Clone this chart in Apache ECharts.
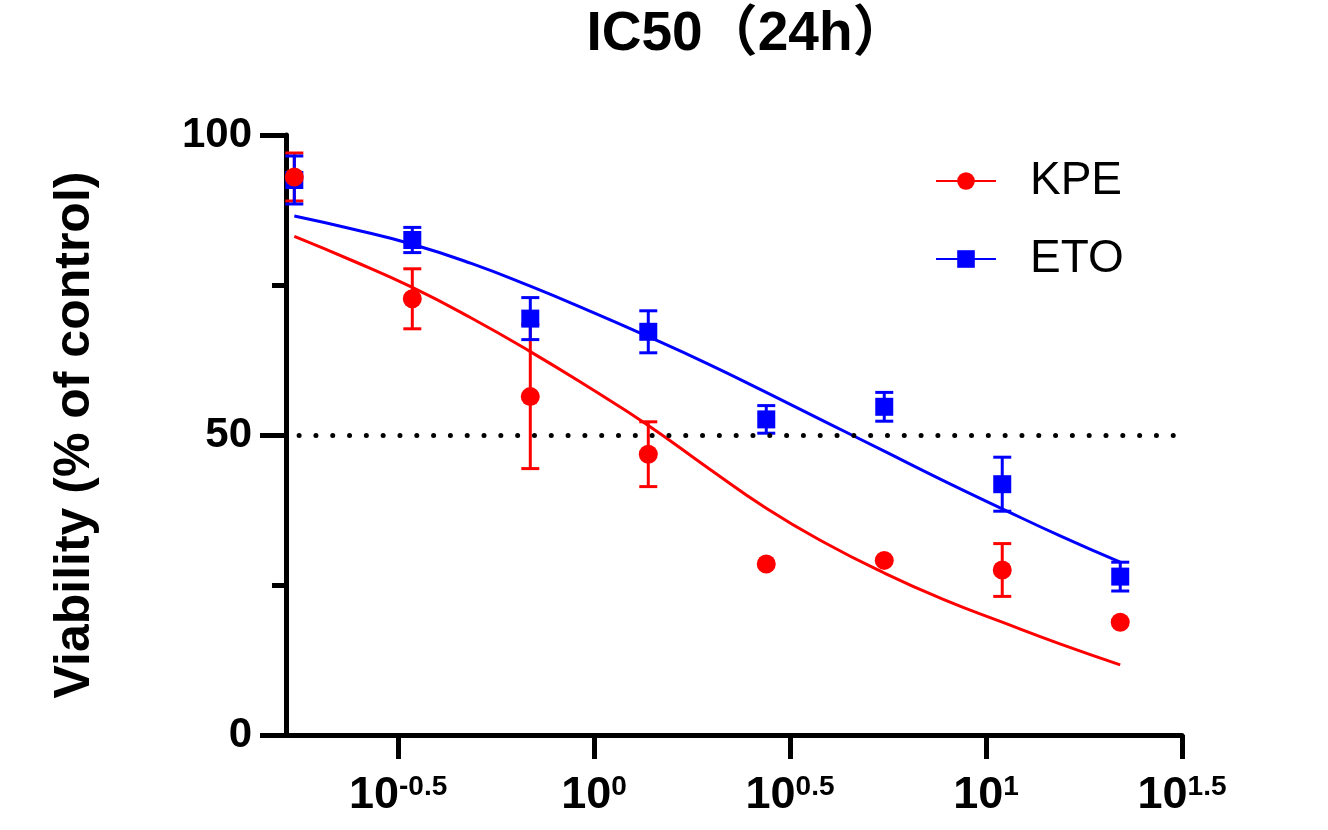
<!DOCTYPE html>
<html><head><meta charset="utf-8">
<script src="https://cdn.jsdelivr.net/npm/echarts@6/dist/echarts.min.js"></script>
<style>html,body{margin:0;padding:0;background:#fff}#c{width:1328px;height:830px}</style>
</head><body><div id="c"></div>
<script>
// ---- data ----
const doses = [0.171875, 0.34375, 0.6875, 1.375, 2.75, 5.5, 11, 22];
const kpeMean = [93.0, 72.7, 56.4, 46.8, 28.5, 29.1, 27.5, 18.8];
const kpeErr  = [4.0, 5.0, 12.0, 5.4, 0, 0, 4.4, 0];
const etoMean = [92.5, 82.5, 69.4, 67.2, 52.6, 54.7, 41.8, 26.4];
const etoErr  = [4.0, 2.1, 3.5, 3.5, 2.3, 2.4, 4.5, 2.4];
// fitted curves
const curveDoses = [0.171875, 0.243, 0.34375, 0.486, 0.6875, 0.972, 1.375, 1.945, 2.75, 3.89, 5.5, 7.78, 11, 15.56, 22];
const kpeFit = [83.1, 79.0, 74.6, 69.5, 63.9, 57.9, 51.6, 44.6, 37.8, 32.0, 27.0, 22.6, 18.8, 15.1, 11.7];
const etoFit = [86.5, 84.3, 81.8, 78.6, 74.8, 70.7, 66.4, 61.9, 57.1, 52.2, 47.3, 42.4, 37.7, 33.1, 28.8];
const xTickExp = [-0.5, 0, 0.5, 1, 1.5];
const xTickText = ['-0.5', '0', '0.5', '1', '1.5'];
const refLine = 50;

const FONT = "'Liberation Sans', Arial, 'Noto Sans CJK SC', sans-serif";
const RED = '#ff0000', BLUE = '#0000ff';

const lg = v => Math.log10(v);
const pts = (d, m) => d.map((x, i) => [lg(x), m[i]]);
const errData = (m, e) => doses.map((x, i) => [lg(x), m[i], e[i]]);

function errRender(color) {
  return function (params, api) {
    const x = api.value(0), m = api.value(1), e = api.value(2);
    if (!e) return null;
    const top = api.coord([x, m + e]);
    const bot = api.coord([x, m - e]);
    const hw = 9;
    const style = { stroke: color, lineWidth: 3, fill: null };
    return {
      type: 'group',
      children: [
        { type: 'line', shape: { x1: top[0], y1: top[1], x2: bot[0], y2: bot[1] }, style },
        { type: 'line', shape: { x1: top[0] - hw, y1: top[1], x2: top[0] + hw, y2: top[1] }, style },
        { type: 'line', shape: { x1: bot[0] - hw, y1: bot[1], x2: bot[0] + hw, y2: bot[1] }, style }
      ]
    };
  };
}

const chart = echarts.init(document.getElementById('c'), null, { renderer: 'canvas' });
chart.setOption({
  animation: false,
  backgroundColor: '#fff',
  title: {
    text: 'IC50（24h）', left: 742, top: 2, textAlign: 'center',
    textStyle: { fontSize: 55, fontWeight: 'bold', color: '#000', fontFamily: FONT }
  },
  legend: {
    data: ['KPE', 'ETO'], orient: 'vertical', left: 930, top: 153,
    itemWidth: 60, itemHeight: 22, itemGap: 32,
    textStyle: { fontSize: 46, color: '#000', fontFamily: FONT, padding: [0, 0, 0, 29] },
    selectedMode: false
  },
  grid: { left: 286, right: 146, top: 135, bottom: 95 },
  xAxis: {
    type: 'value', min: -0.786, max: 1.5,
    axisLine: { onZero: false, lineStyle: { color: '#000', width: 5 } },
    axisTick: { customValues: xTickExp, length: 24, lineStyle: { color: '#000', width: 5 } },
    axisLabel: {
      customValues: xTickExp, margin: 38,
      formatter: v => {
        const i = xTickExp.findIndex(t => Math.abs(t - v) < 1e-9);
        return '{a|10}{b|' + (i >= 0 ? xTickText[i] : v) + '}';
      },
      rich: {
        a: { fontSize: 45, fontWeight: 'bold', color: '#000', fontFamily: FONT },
        b: { fontSize: 28, fontWeight: 'bold', color: '#000', fontFamily: FONT, verticalAlign: 'top' }
      }
    },
    splitLine: { show: false }
  },
  yAxis: {
    type: 'value', min: 0, max: 100, interval: 50,
    name: 'Viability (% of control)', nameLocation: 'middle', nameGap: 186,
    nameTextStyle: { fontSize: 50, fontWeight: 'bold', color: '#000', fontFamily: FONT },
    axisLine: { show: true, onZero: false, lineStyle: { color: '#000', width: 5 } },
    axisTick: { show: true, length: 26, lineStyle: { color: '#000', width: 5 } },
    minorTick: { show: true, splitNumber: 2, length: 14, lineStyle: { color: '#000', width: 5 } },
    axisLabel: { margin: 34, fontSize: 42, fontWeight: 'bold', color: '#000', fontFamily: FONT },
    splitLine: { show: false }, minorSplitLine: { show: false }
  },
  series: [
    {
      name: 'ETO', type: 'line', data: pts(curveDoses, etoFit), smooth: 0.5,
      symbol: 'rect', symbolSize: 18, showSymbol: false, z: 2,
      lineStyle: { color: BLUE, width: 3 }, itemStyle: { color: BLUE }, silent: true,
      markLine: {
        silent: true, symbol: 'none', label: { show: false },
        lineStyle: { color: '#000', width: 5, type: [0.01, 16.8], cap: 'round', dashOffset: 3.7 },
        data: [{ yAxis: refLine }]
      }
    },
    {
      name: 'KPE', type: 'line', data: pts(curveDoses, kpeFit), smooth: 0.5,
      symbol: 'circle', symbolSize: 18, showSymbol: false, z: 2,
      lineStyle: { color: RED, width: 3 }, itemStyle: { color: RED }, silent: true
    },
    {
      name: 'KPE err', type: 'custom', data: errData(kpeMean, kpeErr), renderItem: errRender(RED),
      encode: { x: 0, y: 1 }, z: 3, silent: true
    },
    {
      name: 'ETO err', type: 'custom', data: errData(etoMean, etoErr), renderItem: errRender(BLUE),
      encode: { x: 0, y: 1 }, z: 4, silent: true
    },
    {
      name: 'ETO pts', type: 'scatter', data: pts(doses, etoMean), symbol: 'rect', symbolSize: 18,
      itemStyle: { color: BLUE, opacity: 1 }, z: 5, silent: true
    },
    {
      name: 'KPE pts', type: 'scatter', data: pts(doses, kpeMean), symbol: 'circle', symbolSize: 19,
      itemStyle: { color: RED, opacity: 1 }, z: 6, silent: true
    }
  ]
});
</script></body></html>
